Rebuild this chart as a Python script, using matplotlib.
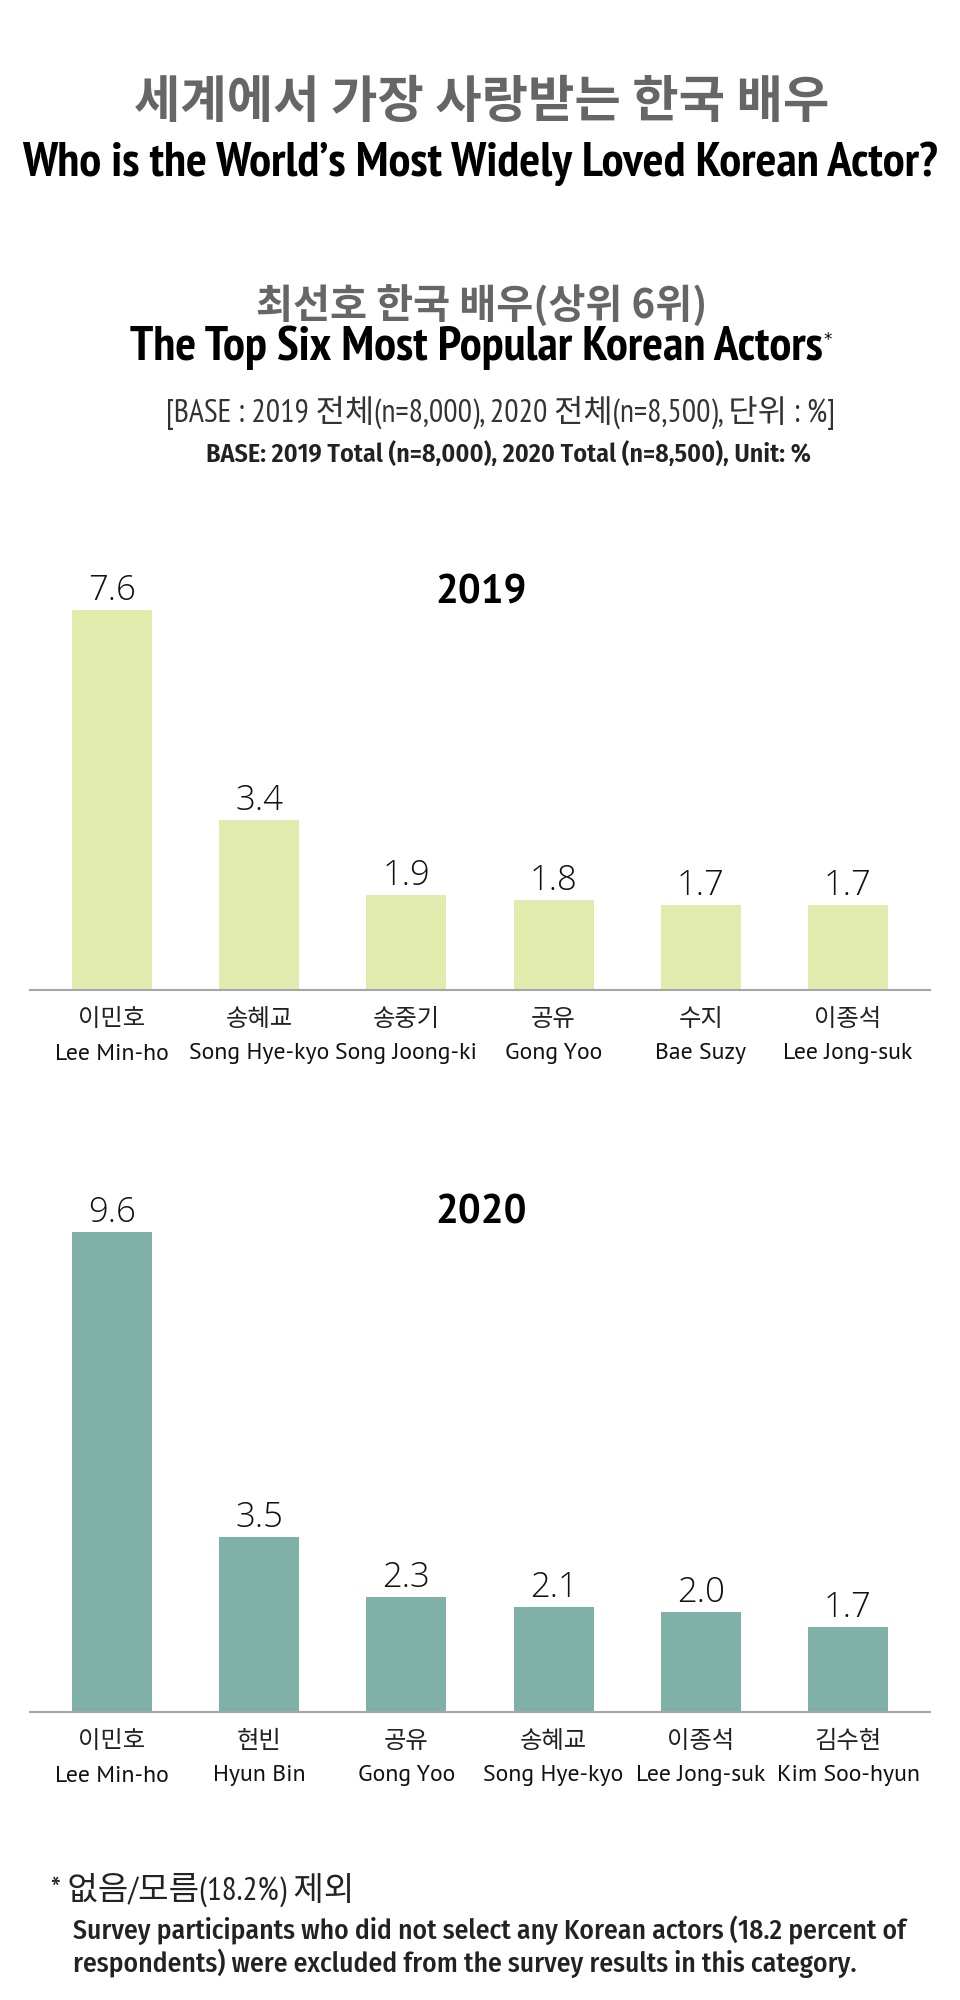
import matplotlib
matplotlib.use("Agg")
import matplotlib.pyplot as plt
from matplotlib.transforms import blended_transform_factory

# ---------------- data ----------------
names_kr_2019 = ["이민호", "송혜교", "송중기", "공유", "수지", "이종석"]
names_en_2019 = ["Lee Min-ho", "Song Hye-kyo", "Song Joong-ki", "Gong Yoo", "Bae Suzy", "Lee Jong-suk"]
values_2019 = [7.6, 3.4, 1.9, 1.8, 1.7, 1.7]

names_kr_2020 = ["이민호", "현빈", "공유", "송혜교", "이종석", "김수현"]
names_en_2020 = ["Lee Min-ho", "Hyun Bin", "Gong Yoo", "Song Hye-kyo", "Lee Jong-suk", "Kim Soo-hyun"]
values_2020 = [9.6, 3.5, 2.3, 2.1, 2.0, 1.7]

title_kr = "세계에서 가장 사랑받는 한국 배우"
title_en = "Who is the World\u2019s Most Widely Loved Korean Actor?"
sub_kr = "최선호 한국 배우(상위 6위)"
sub_en = "The Top Six Most Popular Korean Actors"
base_kr = "[BASE : 2019 전체(n=8,000), 2020 전체(n=8,500), 단위 : %]"
base_en = "BASE: 2019 Total (n=8,000), 2020 Total (n=8,500), Unit: %"
note_kr = "* 없음/모름(18.2%) 제외"
note_en1 = "Survey participants who did not select any Korean actors (18.2 percent of"
note_en2 = "respondents) were excluded from the survey results in this category."

# ---------------- style ----------------
W, H = 960, 2000
KR = ["Noto Sans CJK KR", "DejaVu Sans"]
MIX = ["PT Sans Narrow", "Noto Sans CJK KR", "DejaVu Sans"]
NARROW = ["PT Sans Narrow", "DejaVu Sans"]
SEMI = ["Fira Sans Condensed", "DejaVu Sans"]
LABEL_EN = ["PT Sans", "DejaVu Sans"]
GRAY_TITLE = "#666666"
C2019 = "#E1EBAD"
C2020 = "#80B1A8"
AXIS = "#A6A6A6"

fig = plt.figure(figsize=(W / 100, H / 100), dpi=100)
fig.patch.set_facecolor("white")
renderer = fig.canvas.get_renderer()


def ftext(x, y, s, size, target_w=None, ha="center", **kw):
    t = fig.text(x / W, 1 - y / H, s, fontsize=size, ha=ha, va="center", **kw)
    if target_w is not None:
        w = t.get_window_extent(renderer).width
        t.set_fontsize(size * target_w / w)
    return t


def fitted_size(s, target_w, size, **kw):
    t = fig.text(0, 0, s, fontsize=size, **kw)
    w = t.get_window_extent(renderer).width
    t.remove()
    return size * target_w / w


# titles
ftext(482, 102, title_kr, 30, target_w=696, family=KR, weight="bold", color=GRAY_TITLE)
ftext(480, 164, title_en, 28, target_w=915, family=NARROW, weight="bold", color="black")
ftext(482, 307, sub_kr, 24, target_w=452, family=KR, weight="bold", color=GRAY_TITLE)
ftext(476, 348, sub_en, 24, target_w=693, family=NARROW, weight="bold", color="black")
ftext(828, 340, "*", 12, family=["DejaVu Sans"], color="black")
ftext(501, 413, base_kr, 16, target_w=671, family=MIX, color="#333333")
ftext(508, 454, base_en, 16, target_w=605, family=SEMI, weight=600, color="#222222")

# footnote
ftext(51, 1890, note_kr, 16, target_w=304, ha="left", family=MIX, color="#222222")
ftext(73, 1930, note_en1, 16, target_w=832, ha="left", family=SEMI, weight=500, color="#222222")
t3 = ftext(73, 1963, note_en2, 16, ha="left", family=SEMI, weight=500, color="#222222")
t3.set_fontsize(fig.texts[-2].get_fontsize())

KR_SIZE = fitted_size("이민호", 67, 15, family=KR)
EN_SIZE = fitted_size("Song Hye-kyo", 141, 17, family=LABEL_EN)


def draw_panel(base_px, ymax, names_kr, names_en, values, color, year, year_y):
    height_px = ymax * 50
    ax = fig.add_axes([30 / W, 1 - base_px / H, 900 / W, height_px / H])
    x = list(range(len(values)))
    bars = ax.bar(x, values, width=0.543, color=color, zorder=2)
    ax.set_xlim(-0.557, len(values) - 1 + 0.557)
    ax.set_ylim(0, ymax)
    for sp in ["top", "left", "right"]:
        ax.spines[sp].set_visible(False)
    ax.spines["bottom"].set_color(AXIS)
    ax.spines["bottom"].set_linewidth(1.5)
    ax.set_yticks([])
    ax.set_xticks(x)
    ax.set_xticklabels([""] * len(x))
    ax.tick_params(axis="x", length=0)
    ax.patch.set_alpha(0)
    ax.bar_label(bars, labels=[f"{v:.1f}" for v in values], padding=1.5,
                 fontsize=25, family=["Open Sans", "DejaVu Sans"], fontweight=300,
                 color="#111111")
    tr = blended_transform_factory(ax.transData, fig.transFigure)
    for xi, nk, ne in zip(x, names_kr, names_en):
        ax.text(xi, 1 - (base_px + 29) / H, nk, transform=tr, ha="center", va="center",
                fontsize=KR_SIZE, family=KR, color="#222222")
        ax.text(xi, 1 - (base_px + 64) / H, ne, transform=tr, ha="center", va="center",
                fontsize=EN_SIZE, family=LABEL_EN, color="#111111")
    ftext(481, year_y, year, 29, family=["PT Sans", "DejaVu Sans"], weight="bold", color="black")
    return ax


draw_panel(990, 8, names_kr_2019, names_en_2019, values_2019, C2019, "2019", 593)
draw_panel(1712, 10, names_kr_2020, names_en_2020, values_2020, C2020, "2020", 1213)

fig.savefig("out.png", dpi=100, facecolor="white")
